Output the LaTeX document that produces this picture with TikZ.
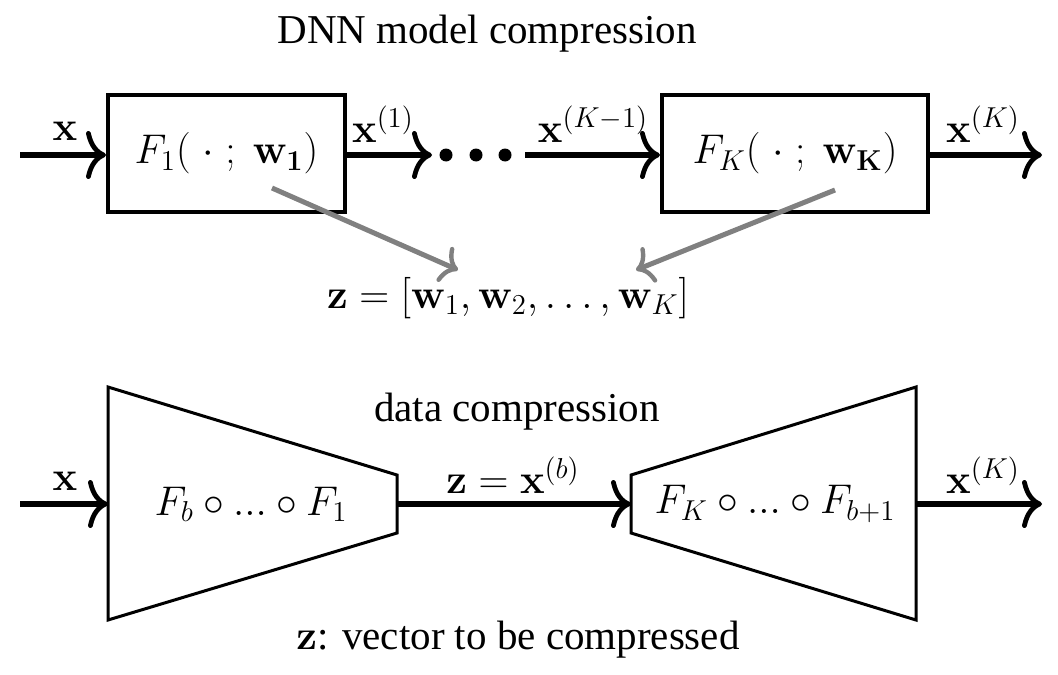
\documentclass[tikz,border=0pt]{standalone}
\usepackage[no-math]{fontspec}
\setmainfont{Liberation Serif}
\usetikzlibrary{arrows.meta}
\begin{document}
\begin{tikzpicture}[x=0.5pt,y=-0.5pt,
  every node/.style={font=\fontsize{20.5}{24}\selectfont, inner sep=0pt},
  flow/.style={line width=3pt,-{Computer Modern Rightarrow[length=10pt,width=24pt,line width=2.4pt]}},
  grayarr/.style={line width=2.5pt,draw={rgb,255:red,128;green,128;blue,128},-{Computer Modern Rightarrow[length=8pt,width=19pt,line width=2.2pt]}},
  fbox/.style={draw,line width=2pt,minimum width=#1,minimum height=58.5pt},
  trap/.style={draw,line width=1.5pt,line join=miter},
  dot/.style={circle,fill,minimum size=6.5pt}]
\useasboundingbox (0,0) rectangle (1058,674);
% titles
\node (t1) at (487,34) {DNN model compression};
\node (t2) at (517,412) {data compression};
\node (t3) at (518,640) {$\mathbf{z}$: vector to be compressed};
% top row
\node[fbox=118.5pt] (b1) at (226.5,153.5) {$F_1(\;\cdot\;;\ \mathbf{w_1})$};
\node[fbox=133pt] (b2) at (795,153.5) {$F_K(\;\cdot\;;\ \mathbf{w_K})$};
\node[dot] (d1) at (446,155) {};
\node[dot] (d2) at (476,155) {};
\node[dot] (d3) at (505,155) {};
\coordinate (in1) at (20,155);
\coordinate (out1) at (1042,155);
\coordinate (d1w) at (432,155);
\coordinate (d3e) at (525,155);
\draw[flow] (in1) -- (in1 -| b1.west);
\draw[flow] (d1w -| b1.east) -- (d1w);
\draw[flow] (d3e) -- (d3e -| b2.west);
\draw[flow] (out1 -| b2.east) -- (out1);
\node (lx1) at (65,131) {$\mathbf{x}$};
\node (lx2) at (383,124) {$\mathbf{x}^{(1)}$};
\node (lx3) at (593,124) {$\mathbf{x}^{(K-1)}$};
\node (lx4) at (983,124) {$\mathbf{x}^{(K)}$};
% z vector
\node (zv) at (508,298) {$\mathbf{z}=[\mathbf{w}_1,\mathbf{w}_2,\ldots,\mathbf{w}_K]$};
\coordinate (g1s) at (272,188);
\coordinate (g1e) at (458,270);
\coordinate (g2s) at (835,190);
\coordinate (g2e) at (636,270);
\draw[grayarr] (g1s) -- (g1e);
\draw[grayarr] (g2s) -- (g2e);
% bottom row
\coordinate (e1) at (108,387);
\coordinate (e2) at (397,475);
\coordinate (e3) at (397,533);
\coordinate (e4) at (108,620);
\coordinate (f1) at (631,475);
\coordinate (f2) at (916,387);
\coordinate (f3) at (916,620);
\coordinate (f4) at (631,533);
\draw[trap] (e1) -- (e2) -- (e3) -- (e4) -- cycle;
\draw[trap] (f1) -- (f2) -- (f3) -- (f4) -- cycle;
\node (enc) at (251,504) {$F_b\circ...\circ F_1$};
\node (dec) at (775,504) {$F_K\circ...\circ F_{b+1}$};
\coordinate (in2) at (20,504);
\coordinate (out2) at (1042,504);
\draw[flow] (in2) -- (in2 -| e1);
\draw[flow] (in2 -| e2) -- (in2 -| f1);
\draw[flow] (out2 -| f2) -- (out2);
\node (ly1) at (65,481) {$\mathbf{x}$};
\node (ly2) at (513,475) {$\mathbf{z}=\mathbf{x}^{(b)}$};
\node (ly3) at (983,475) {$\mathbf{x}^{(K)}$};
\end{tikzpicture}
\end{document}
